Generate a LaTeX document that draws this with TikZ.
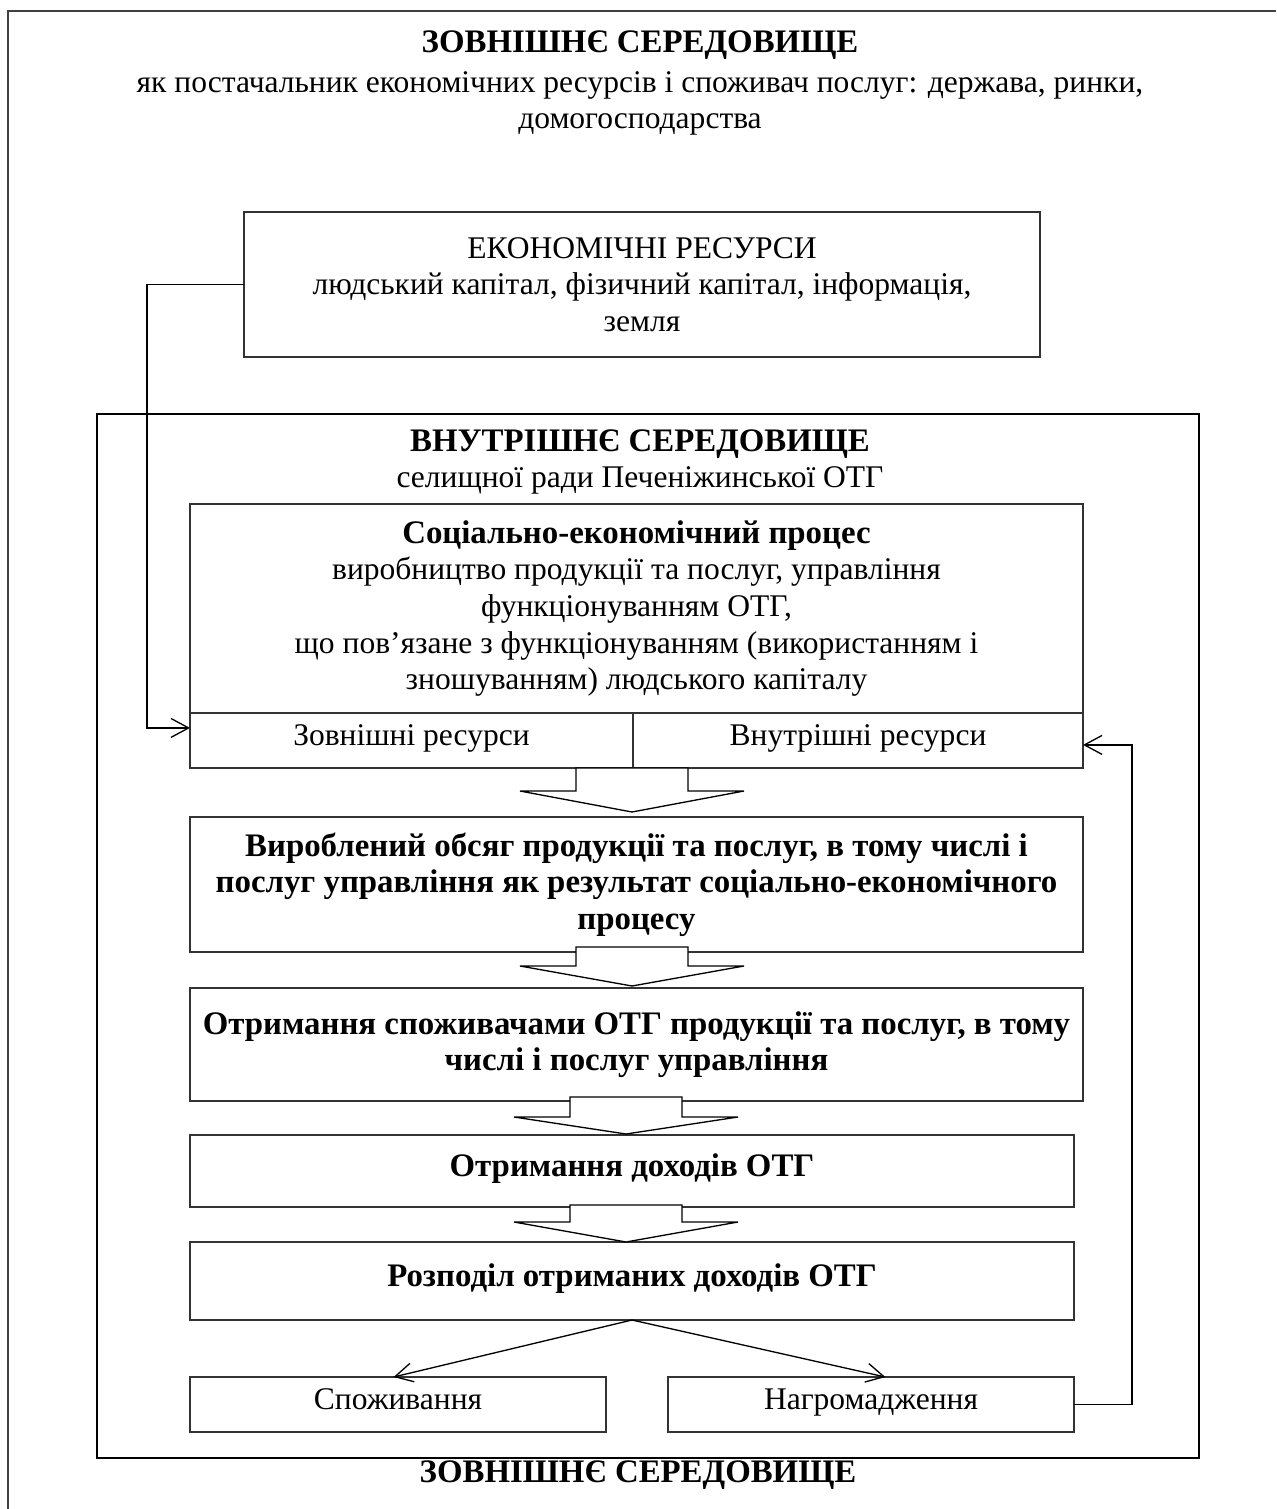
\documentclass[tikz,border=0pt]{standalone}
\usepackage{fontspec}
\setmainfont{Liberation Serif}
\usepackage{tikz}
\usetikzlibrary{positioning,arrows.meta}

\newcommand{\un}{0.4535pt}
\newcommand{\bfs}{\fontsize{14.9}{16.6}\selectfont\bfseries}

\tikzset{
  txt/.style={align=center, inner sep=0pt, font=\fontsize{14.3}{16.6}\selectfont},
  box/.style={txt, draw=black!80, line width=0.5pt, outer sep=0pt},
  one/.style={text height=0.68em, text depth=0.22em},
  conn/.style={-{Straight Barb[length=8pt,width=8.6pt]}, line width=0.6pt},
  hollow/.style={draw, fill=white, line width=0.6pt, line join=miter},
}

\begin{document}
\begin{tikzpicture}[x=\un, y=-\un]
\useasboundingbox (0,0) rectangle (1276,1509);

% Frames
\draw[line width=0.6pt, black!75] (8,1509) -- (8,11) -- (1276,11);
\draw[line width=1pt] (97,414) rectangle (1199,1458);

% Define nodes
\node[txt, anchor=north] (top) at (640,30) {{\bfs ЗОВНІШНЄ СЕРЕДОВИЩЕ}\\[1.5pt]
  як постачальник економічних ресурсів і споживач послуг: держава, ринки,\\
  домогосподарства};
\node[box, minimum width=796*\un, minimum height=145*\un] (eco) at (642,284.5)
  {ЕКОНОМІЧНІ РЕСУРСИ\\ людський капітал, фізичний капітал, інформація,\\ земля};
\node[txt] (vn) at (640,462) {{\bfs ВНУТРІШНЄ СЕРЕДОВИЩЕ}\\ селищної ради Печеніжинської ОТГ};
\node[box, minimum width=893*\un, minimum height=209*\un] (soc) at (636.5,608.5)
  {{\bfs Соціально-економічний процес}\\
   виробництво продукції та послуг, управління\\
   функціонуванням ОТГ,\\
   що пов’язане з функціонуванням (використанням і\\
   зношуванням) людського капіталу};
\node[box, one, minimum width=443*\un, minimum height=55*\un] (zov) at (411.5,740.5) {Зовнішні ресурси};
\node[box, one, minimum width=450*\un, minimum height=55*\un, right=0pt of zov] (vnu) {Внутрішні ресурси};
\node[box, font=\bfs, minimum width=893*\un, minimum height=135*\un] (vyr) at (636.5,884.5)
  {Вироблений обсяг продукції та послуг, в тому числі і\\
   послуг управління як результат соціально-економічного\\
   процесу};
\node[box, font=\bfs, minimum width=893*\un, minimum height=113*\un] (otr) at (636.5,1044.5)
  {Отримання споживачами ОТГ продукції та послуг, в тому\\
   числі і послуг управління};
\node[box, one, font=\bfs, minimum width=884*\un, minimum height=72*\un] (doh) at (632,1171)
  {Отримання доходів ОТГ};
\node[box, one, font=\bfs, minimum width=884*\un, minimum height=78*\un] (roz) at (632,1281)
  {Розподіл отриманих доходів ОТГ};
\node[box, one, minimum width=416*\un, minimum height=55*\un] (spo) at (398,1404.5) {Споживання};
\node[box, one, minimum width=406*\un, minimum height=55*\un] (nag) at (871,1404.5) {Нагромадження};
\node[txt, one, font=\bfs] (bot) at (638,1477) {ЗОВНІШНЄ СЕРЕДОВИЩЕ};

% Block arrows
\foreach \x/\t/\s/\e in {632/768/791/812, 632/947/966/986, 626/1097/1117/1134, 626/1205/1222/1242}
  \draw[hollow] (\x-56,\t) -- (\x+56,\t) -- (\x+56,\s) -- (\x+112,\s) -- (\x,\e)
    -- (\x-112,\s) -- (\x-56,\s) -- cycle;

% Connect the nodes
\draw[conn] (eco.west) -- ++(-97,0) |- ([yshift=5.7pt]zov.west);
\draw[conn] (nag.east) -- ++(58,0) |- ([yshift=-2pt]vnu.east);
\draw[conn] (roz.south) -- ([xshift=-2pt]spo.north);
\draw[conn] (roz.south) -- ([xshift=6.5pt]nag.north);

\end{tikzpicture}
\end{document}
